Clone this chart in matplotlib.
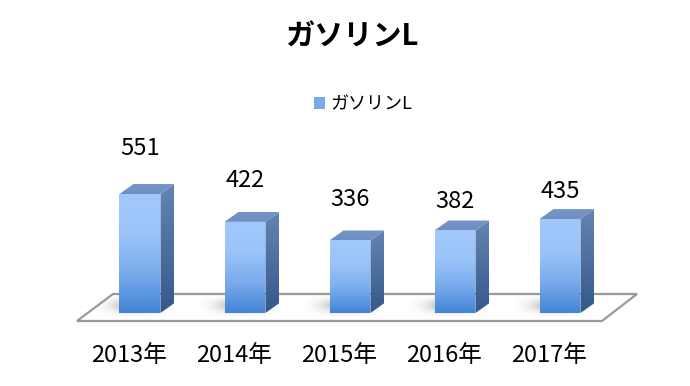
import numpy as np
import matplotlib.pyplot as plt
from matplotlib.patches import Polygon, Patch
from matplotlib.colors import LinearSegmentedColormap

years = ['2013年', '2014年', '2015年', '2016年', '2017年']
gasoline = [551, 422, 336, 382, 435]
series_name = 'ガソリンL'

# label gap above each bar (points) - labels sit at uneven heights in the original
label_gap = [33, 30, 29.5, 21, 20]

plt.rcParams['font.family'] = ['Noto Sans CJK JP', 'DejaVu Sans']

fig = plt.figure(figsize=(6.9, 3.86), dpi=100)
ax = fig.add_axes([0, 0, 1, 1])
XL = (-1.333, 5.238)
YL = (-338, 1449)

hw = 0.195      # half bar width
dx, dy = 0.133, 46   # depth offset


def grad_fill(verts, stops, zorder):
    poly = Polygon(verts, closed=True, facecolor='none', edgecolor='none')
    ax.add_patch(poly)
    xs = [v[0] for v in verts]
    ys = [v[1] for v in verts]
    cmap = LinearSegmentedColormap.from_list('g', stops)
    im = ax.imshow(np.linspace(0, 1, 200).reshape(-1, 1), cmap=cmap,
                   extent=[min(xs), max(xs), min(ys), max(ys)],
                   origin='lower', aspect='auto', zorder=zorder,
                   interpolation='bilinear')
    im.set_clip_path(poly)


# floor
floor = [(-0.6, -37), (4.4, -37), (4.733, 88), (-0.257, 88)]
ax.add_patch(Polygon(floor, closed=True, facecolor='white',
                     edgecolor='#9a9a9a', lw=1.6, zorder=1))
floor_clip = Polygon(floor, closed=True, facecolor='none', edgecolor='none')
ax.add_patch(floor_clip)

# soft shadows on the floor
gx = np.linspace(-1, 1, 120)
gy = np.linspace(-1, 1, 60)
GX, GY = np.meshgrid(gx, gy)
alpha = np.exp(-(GX ** 2 * 3 + GY ** 2 * 3)) * 0.55
rgba = np.zeros(GX.shape + (4,))
rgba[..., :3] = 0.45
rgba[..., 3] = alpha
for i, v in enumerate(gasoline):
    im = ax.imshow(rgba, extent=[i - 0.42, i + 0.32, -20, 85],
                   origin='lower', aspect='auto', zorder=2,
                   interpolation='bilinear')
    im.set_clip_path(floor_clip)

# bars
for i, v in enumerate(gasoline):
    x0, x1 = i - hw, i + hw
    side = [(x1, 0), (x1 + dx, dy), (x1 + dx, v + dy), (x1, v)]
    top = [(x0, v), (x1, v), (x1 + dx, v + dy), (x0 + dx, v + dy)]
    front = [(x0, 0), (x1, 0), (x1, v), (x0, v)]
    grad_fill(side, ['#34588a', '#4c6f9f', '#6584b3'], 3)
    grad_fill(top, ['#6f8fc4', '#7594c8'], 3)
    grad_fill(front, ['#4384d6', '#7aaced', '#9cc4f9', '#a2c8fb'], 4)
    ax.annotate(str(v), (i, v), xytext=(0, label_gap[i]), textcoords='offset points',
                ha='center', va='center', fontsize=17)
    ax.text(i - 0.105, -199, years[i], ha='center', va='center', fontsize=17)

ax.set_xlim(*XL)
ax.set_ylim(*YL)
ax.axis('off')

fig.text(0.51, 0.904, 'ガソリンL', ha='center', va='center',
         fontsize=21, fontweight='bold')

handle = Patch(facecolor='#7aaaea', edgecolor='none')
fig.legend([handle], [series_name], loc='center', bbox_to_anchor=(0.526, 0.73),
           frameon=False, fontsize=13, handlelength=0.6, handleheight=0.6,
           handletextpad=0.3)

fig.savefig('out.png', dpi=100)
